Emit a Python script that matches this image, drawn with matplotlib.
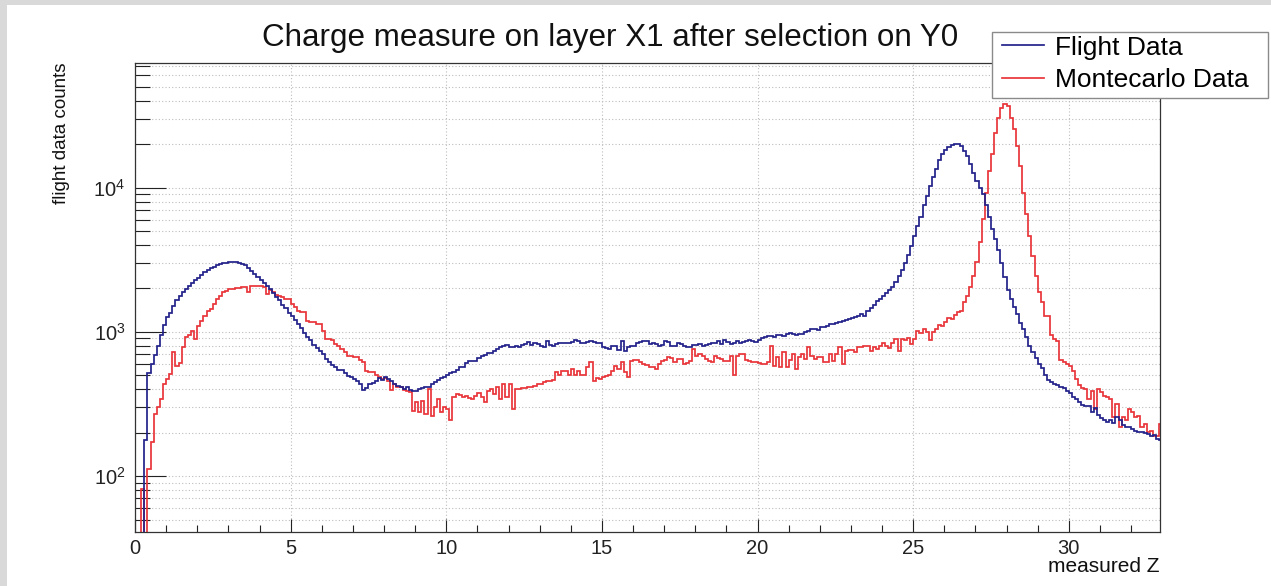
import numpy as np
import matplotlib
matplotlib.use("Agg")
import matplotlib.pyplot as plt
from matplotlib.ticker import LogLocator, MultipleLocator, NullFormatter
from matplotlib.lines import Line2D
from matplotlib.patches import Rectangle

plt.rcParams['font.family'] = ['Liberation Sans', 'DejaVu Sans']

# ---------------- data: histogram, 330 bins of width 0.1 over 0..33 ----------------
bin_lo = 0.0
bin_hi = 33.0
n_bins = 330

flight_counts = [
    0, 0, 30, 177, 520, 600, 690, 800, 950, 1120,
    1260, 1360, 1500, 1660, 1785, 1877, 1970, 2070, 2175, 2290,
    2375, 2470, 2585, 2680, 2750, 2820, 2890, 2955, 2985, 3010,
    3060, 3060, 3035, 2990, 2960, 2900, 2780, 2650, 2520, 2400,
    2280, 2170, 2070, 1970, 1870, 1733, 1650, 1535, 1455, 1360,
    1285, 1200, 1130, 1060, 985, 925, 875, 815, 775, 738,
    703, 652, 620, 590, 570, 548, 540, 520, 498, 485,
    472, 460, 436, 396, 409, 436, 440, 459, 480, 465,
    485, 472, 459, 436, 424, 418, 402, 413, 396, 388,
    388, 402, 409, 418, 418, 436, 447, 465, 480, 490,
    506, 515, 530, 545, 568, 573, 605, 625, 625, 632,
    660, 684, 695, 710, 718, 732, 757, 781, 798, 810,
    790, 781, 798, 790, 815, 824, 850, 810, 833, 824,
    803, 790, 869, 815, 803, 824, 833, 842, 833, 833,
    850, 877, 860, 842, 833, 850, 860, 846, 840, 833,
    781, 772, 761, 803, 803, 750, 860, 741, 781, 803,
    803, 833, 846, 860, 869, 824, 833, 824, 803, 815,
    860, 846, 803, 803, 833, 824, 803, 790, 790, 815,
    815, 824, 803, 810, 824, 833, 842, 860, 824, 879,
    846, 824, 833, 860, 842, 850, 869, 879, 869, 850,
    879, 905, 916, 941, 935, 927, 957, 952, 941, 967,
    976, 972, 957, 967, 967, 1000, 1020, 1047, 1042, 1031,
    1075, 1086, 1104, 1134, 1134, 1146, 1170, 1183, 1209, 1228,
    1248, 1274, 1287, 1330, 1294, 1386, 1460, 1545, 1630, 1700,
    1780, 1850, 1950, 2050, 2200, 2450, 2700, 3000, 3400, 3950,
    4600, 5400, 6300, 7600, 8800, 10200, 11800, 13400, 15500, 17000,
    18300, 19200, 19700, 20000, 19900, 19400, 18000, 16500, 14500, 12700,
    11130, 10000, 9000, 7600, 6300, 5155, 4400, 3700, 3000, 2400,
    1950, 1700, 1480, 1330, 1150, 1040, 920, 800, 720, 660,
    600, 560, 500, 465, 447, 436, 425, 418, 405, 390,
    375, 355, 340, 325, 312, 308, 305, 280, 298, 265,
    252, 243, 236, 243, 233, 255, 243, 225, 218, 218,
    213, 207, 202, 202, 198, 196, 191, 194, 182, 179,
]

mc_counts = [
    0, 0, 82, 35, 112, 172, 270, 300, 343, 436,
    472, 511, 722, 583, 610, 781, 916, 950, 1019, 893,
    1104, 1197, 1294, 1402, 1439, 1560, 1689, 1780, 1877, 1928,
    1981, 1981, 2010, 2010, 2030, 2030, 1877, 2088, 2088, 2088,
    2088, 2060, 1820, 1950, 1877, 1800, 1780, 1733, 1700, 1689,
    1560, 1480, 1402, 1380, 1366, 1197, 1164, 1164, 1130, 1130,
    1019, 893, 890, 876, 825, 800, 755, 720, 680, 675,
    670, 667, 640, 615, 539, 530, 524, 500, 490, 472,
    480, 459, 396, 436, 413, 413, 396, 390, 385, 285,
    325, 278, 334, 270, 402, 263, 300, 344, 278, 300,
    292, 243, 352, 373, 365, 352, 362, 350, 344, 362,
    377, 352, 325, 392, 402, 373, 413, 344, 436, 352,
    436, 292, 402, 402, 409, 409, 418, 418, 424, 436,
    436, 447, 459, 459, 465, 524, 500, 539, 539, 500,
    555, 500, 539, 500, 500, 568, 615, 459, 480, 472,
    490, 495, 500, 539, 580, 555, 615, 524, 490, 632,
    635, 639, 615, 600, 590, 575, 568, 555, 599, 632,
    640, 667, 660, 615, 649, 649, 599, 610, 632, 761,
    684, 703, 680, 649, 630, 615, 684, 660, 649, 625,
    630, 684, 506, 684, 703, 703, 639, 625, 620, 615,
    605, 599, 600, 615, 803, 583, 673, 568, 722, 568,
    640, 703, 555, 667, 703, 649, 790, 684, 649, 667,
    667, 615, 615, 703, 625, 703, 781, 599, 741, 750,
    750, 722, 781, 781, 803, 803, 741, 790, 761, 800,
    835, 800, 770, 840, 893, 740, 890, 880, 900, 824,
    893, 1019, 982, 1047, 992, 883, 1000, 1047, 1116, 1104,
    1164, 1240, 1228, 1300, 1365, 1402, 1600, 1780, 2032, 2449,
    3027, 4162, 6044, 9235, 13050, 17030, 24040, 30500, 35800, 37760,
    36780, 30500, 25350, 19440, 14130, 9235, 6546, 4631, 3367, 2449,
    1877, 1600, 1294, 1280, 950, 890, 860, 640, 615, 600,
    583, 539, 472, 430, 410, 400, 343, 392, 293, 402,
    380, 362, 355, 343, 256, 317, 218, 256, 243, 293,
    277, 256, 263, 218, 230, 202, 207, 191, 191, 230,
]

series_labels = ["Flight Data", "Montecarlo Data"]
title_text = "Charge measure on layer X1 after selection on Y0"
xlabel_text = "measured Z"
ylabel_text = "flight data counts"
x_major_ticks = [0, 5, 10, 15, 20, 25, 30]

# ---------------- figure ----------------
W, H = 1271, 586
fig = plt.figure(figsize=(W / 100, H / 100), dpi=100)
fig.patch.set_facecolor('white')

# light grey canvas border (top and left)
fig.patches.append(Rectangle((0, 1 - 5 / H), 1, 5 / H, transform=fig.transFigure,
                             facecolor='#d9d9d9', edgecolor='none', zorder=0))
fig.patches.append(Rectangle((0, 0), 7 / W, 1, transform=fig.transFigure,
                             facecolor='#d9d9d9', edgecolor='none', zorder=0))

ax_l, ax_r, ax_t, ax_b = 135, 1160, 63, 532
ax = fig.add_axes([ax_l / W, 1 - ax_b / H, (ax_r - ax_l) / W, (ax_b - ax_t) / H])

edges = np.linspace(bin_lo, bin_hi, n_bins + 1)
flight = np.clip(np.asarray(flight_counts, float), 1, None)
mc = np.clip(np.asarray(mc_counts, float), 1, None)

blue = '#22228a'
red = '#e8353a'
ax.stairs(flight, edges, baseline=None, color=blue, lw=1.25, zorder=3)
ax.stairs(mc, edges, baseline=None, color=red, lw=1.25, zorder=2)

ax.set_yscale('log')
ax.set_xlim(bin_lo, 32.93)
ax.set_ylim(41, 73000)

ax.set_xticks(x_major_ticks)
ax.xaxis.set_minor_locator(MultipleLocator(1))
ax.yaxis.set_major_locator(LogLocator(base=10, numticks=20))
ax.yaxis.set_minor_locator(LogLocator(base=10, subs=np.arange(2, 10), numticks=40))
ax.yaxis.set_minor_formatter(NullFormatter())

ax.tick_params(axis='x', which='major', direction='in', length=9.3, width=0.8,
               colors='#222222', labelsize=14.5, pad=5, top=False)
ax.tick_params(axis='x', which='minor', direction='in', length=5.3, width=0.8,
               colors='#222222', top=False)
ax.tick_params(axis='y', which='major', direction='in', length=22, width=0.8,
               colors='#222222', labelsize=14.5, pad=7, right=False)
ax.tick_params(axis='y', which='minor', direction='in', length=11, width=0.8,
               colors='#222222', right=False)

ax.grid(which='major', axis='x', color='#bdbdbd', linestyle=(0, (1, 2)), lw=0.8)
ax.grid(which='both', axis='y', color='#bdbdbd', linestyle=(0, (1, 2)), lw=0.8)
ax.set_axisbelow(True)
for s in ax.spines.values():
    s.set_color('#333333')
    s.set_linewidth(0.9)

# texts
fig.text(610 / W, 1 - 38 / H, title_text, ha='center', va='center', fontsize=22.6, color='#111111')
fig.text(1160 / W, 1 - 567 / H, xlabel_text, ha='right', va='center', fontsize=15, color='#111111')
fig.text(62 / W, 1 - 63 / H, ylabel_text, ha='center', va='top', rotation=90, fontsize=13.5, color='#111111')

# legend: box drawn explicitly, entries via legend without frame
lg_l, lg_r, lg_t, lg_b = 992, 1268, 32, 98
fig.patches.append(Rectangle((lg_l / W, 1 - lg_b / H), (lg_r - lg_l) / W, (lg_b - lg_t) / H,
                             transform=fig.transFigure, facecolor='white',
                             edgecolor='#8a8a8a', lw=1.0, zorder=5))
handles = [Line2D([], [], color=blue, lw=1.25), Line2D([], [], color=red, lw=1.25)]
leg = fig.legend(handles, series_labels, loc='center left',
                 bbox_to_anchor=(1002 / W, 1 - 64 / H), bbox_transform=fig.transFigure,
                 fontsize=19, frameon=False, borderpad=0.0, labelspacing=0.33,
                 handlelength=1.6, handletextpad=0.42, borderaxespad=0)
leg.set_zorder(6)

fig.savefig('out.png', dpi=100)
